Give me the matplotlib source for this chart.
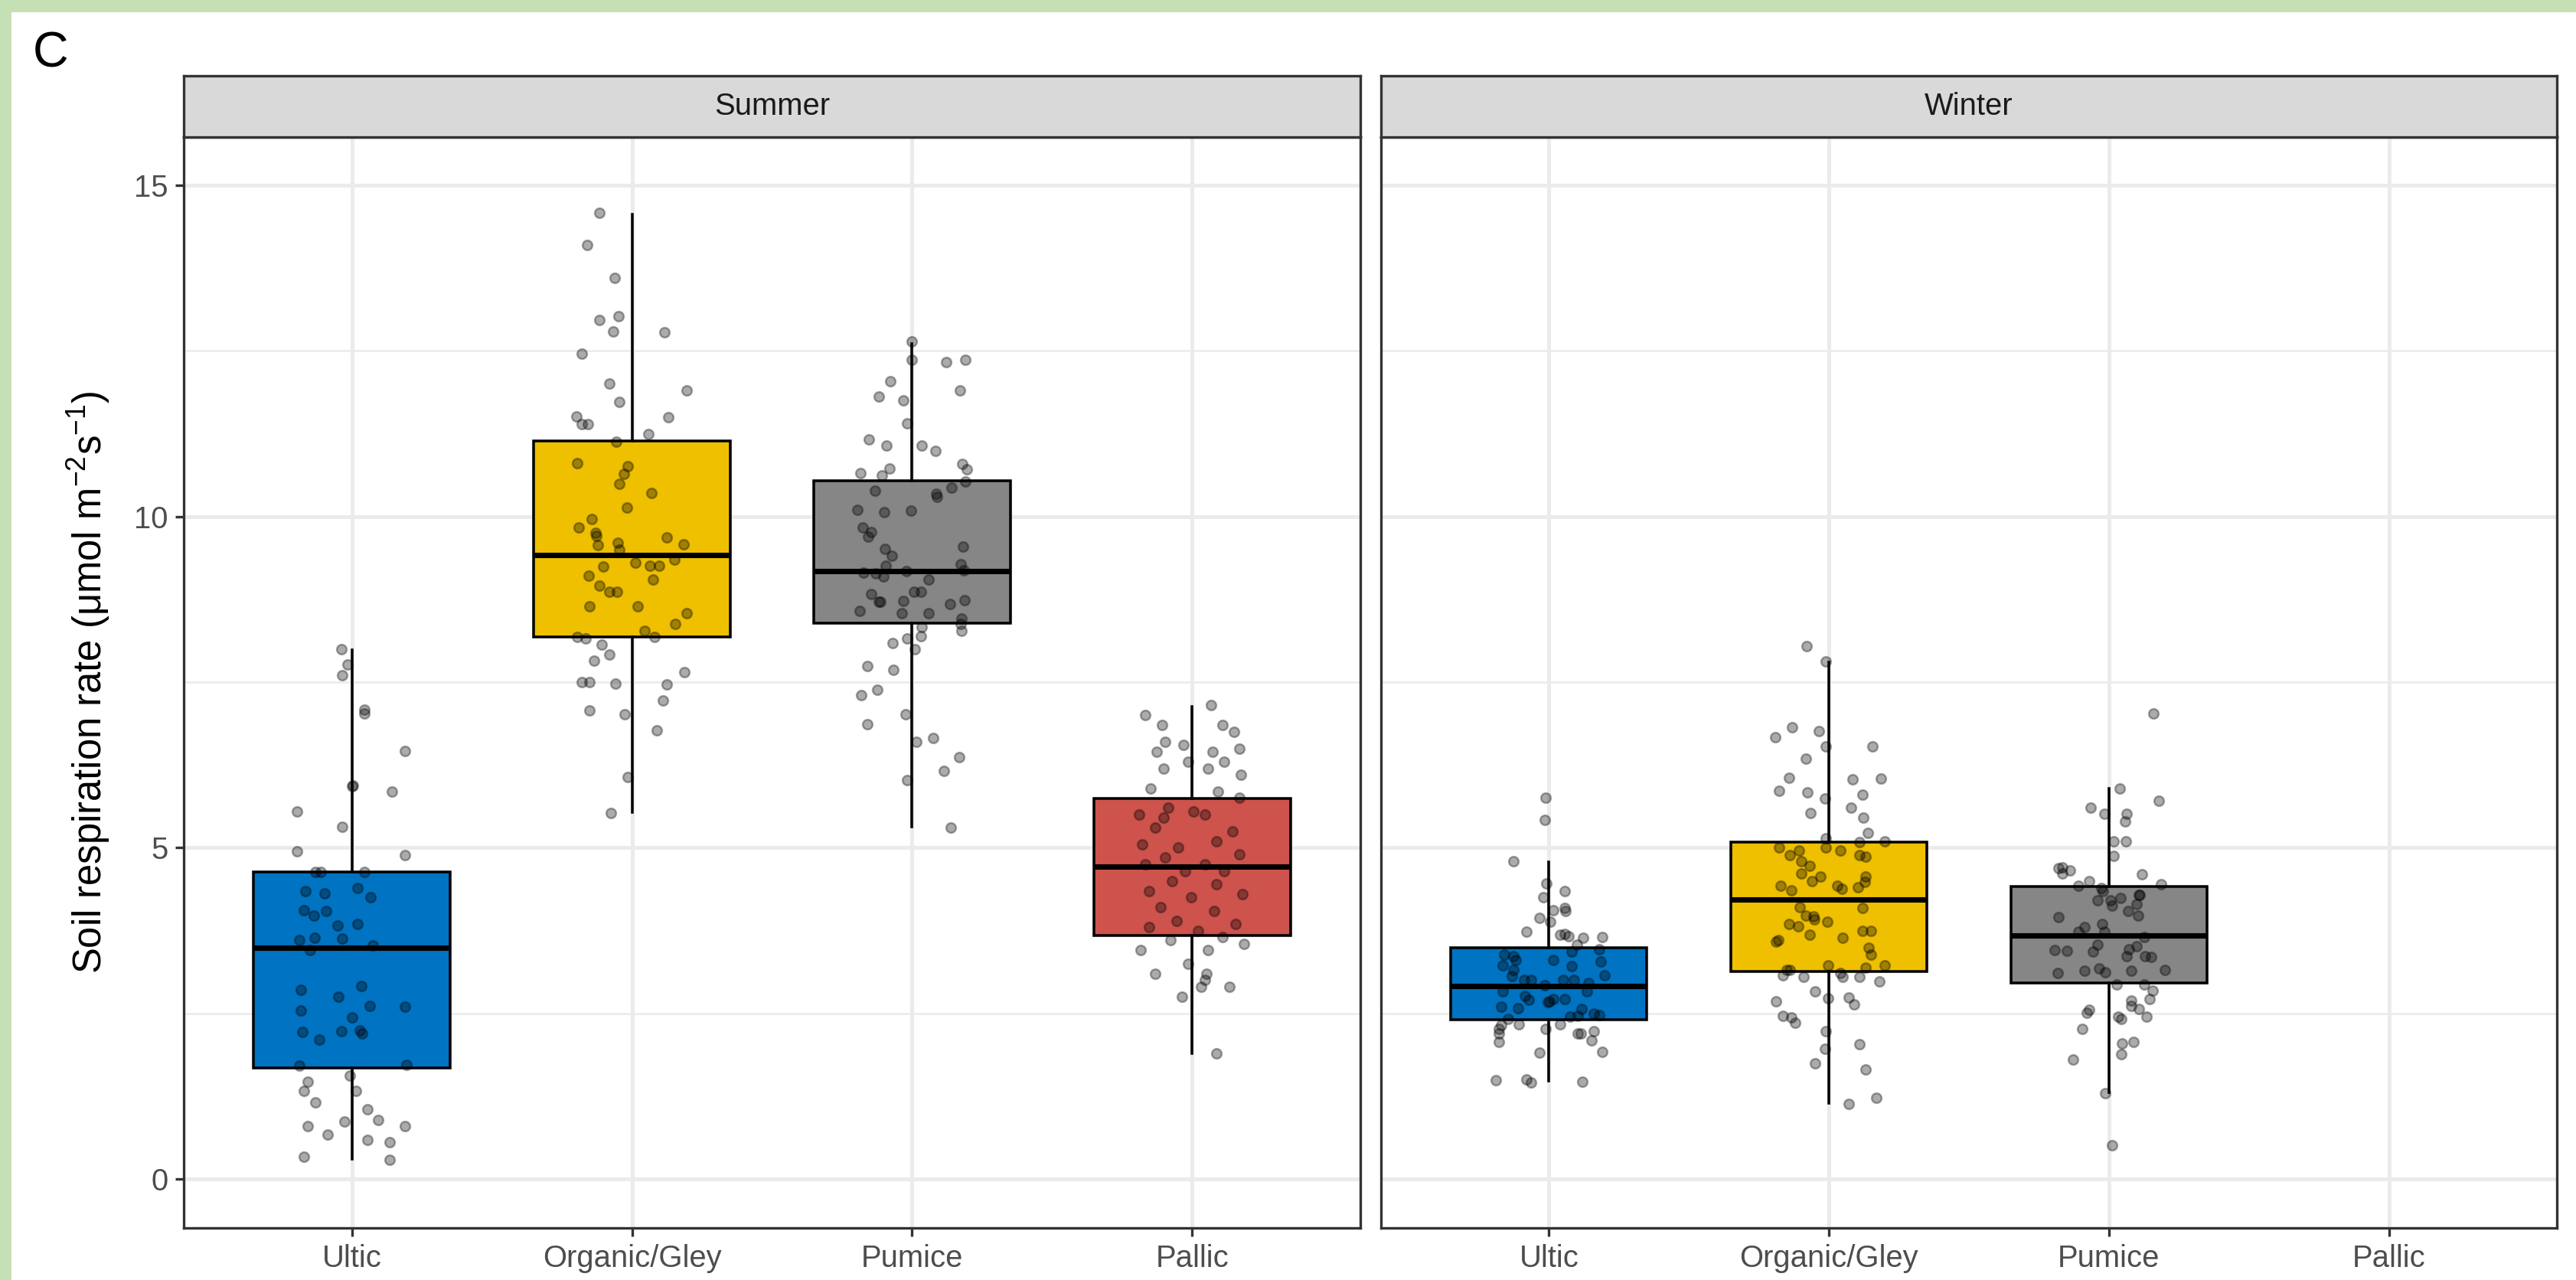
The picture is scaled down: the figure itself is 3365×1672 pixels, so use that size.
import matplotlib
matplotlib.use("Agg")
import matplotlib.pyplot as plt
from matplotlib.patches import Rectangle

plt.rcParams["font.family"] = ["Liberation Sans", "DejaVu Sans"]
plt.rcParams["mathtext.fontset"] = "custom"
plt.rcParams["mathtext.rm"] = "Liberation Sans"
plt.rcParams["mathtext.it"] = "Liberation Sans:italic"
plt.rcParams["mathtext.bf"] = "Liberation Sans:bold"

# ---------------------------------------------------------------- data
soil_types = ["Ultic", "Organic/Gley", "Pumice", "Pallic"]
seasons = ["Summer", "Winter"]
soil_colors = ["#0073C2", "#EFC000", "#868686", "#CD534C"]

# box summaries (lower whisker, Q1, median, Q3, upper whisker)
summer_whislo = [0.30, 5.54, 5.32, 1.89]
summer_q1 = [1.67, 8.18, 8.39, 3.68]
summer_med = [3.49, 9.42, 9.18, 4.72]
summer_q3 = [4.63, 11.14, 10.54, 5.74]
summer_whishi = [7.99, 14.56, 12.61, 7.13]

winter_whislo = [1.48, 1.14, 1.30]
winter_q1 = [2.40, 3.13, 2.96]
winter_med = [2.91, 4.22, 3.68]
winter_q3 = [3.49, 5.08, 4.41]
winter_whishi = [4.78, 7.80, 5.89]

# individual measurements (umol m-2 s-1) and their horizontal jitter
summer_ultic = [8.00, 7.77, 7.60, 7.08, 7.03, 6.46, 5.94, 5.93, 5.85, 5.55,
                5.32, 4.95, 4.89, 4.64, 4.64, 4.64, 4.35, 4.31, 4.39, 4.25,
                4.06, 3.98, 4.04, 3.82, 3.85, 3.61, 3.64, 3.63, 3.46, 3.52,
                2.85, 2.75, 2.91, 2.54, 2.61, 2.60, 2.44, 2.22, 2.10, 2.23,
                2.24, 2.19, 1.71, 1.72, 1.56, 1.47, 1.33, 1.33, 1.15, 1.05,
                0.89, 0.80, 0.87, 0.80, 0.67, 0.59, 0.55, 0.34, 0.29]
summer_ultic_jit = [-0.037, -0.015, -0.035, 0.046, 0.045, 0.19, 0.003, 0.0, 0.142, -0.196,
                    -0.034, -0.196, 0.19, -0.13, -0.11, 0.045, -0.165, -0.097, 0.02, 0.067,
                    -0.17, -0.135, -0.092, -0.05, 0.019, -0.188, -0.134, -0.034, -0.15, 0.076,
                    -0.182, -0.047, 0.035, -0.183, 0.065, 0.19, 0.0, -0.176, -0.115, -0.037,
                    0.028, 0.037, -0.188, 0.196, -0.006, -0.156, -0.172, 0.015, -0.131, 0.056,
                    0.094, -0.158, -0.026, 0.19, -0.087, 0.056, 0.135, -0.17, 0.134]

summer_organic = [14.59, 14.10, 13.60, 12.97, 13.02, 12.79, 12.78, 12.46, 12.01, 11.91,
                  11.73, 11.51, 11.40, 11.40, 11.50, 11.24, 11.13, 10.81, 10.76, 10.65,
                  10.50, 10.35, 10.14, 9.96, 9.84, 9.75, 9.71, 9.57, 9.61, 9.50,
                  9.69, 9.58, 9.35, 9.25, 9.30, 9.26, 9.26, 9.11, 9.05, 8.96,
                  8.87, 8.87, 8.65, 8.65, 8.54, 8.38, 8.28, 8.18, 8.16, 8.18,
                  8.07, 7.83, 7.92, 7.65, 7.50, 7.50, 7.48, 7.47, 7.22, 7.07,
                  7.02, 6.77, 6.07, 5.53]
summer_organic_jit = [-0.115, -0.16, -0.061, -0.115, -0.048, -0.068, 0.115, -0.179, -0.08, 0.196,
                      -0.045, -0.199, -0.179, -0.158, 0.129, 0.06, -0.055, -0.195, -0.014, -0.028,
                      -0.045, 0.07, -0.019, -0.144, -0.19, -0.13, -0.128, -0.123, -0.051, -0.044,
                      0.125, 0.185, 0.151, -0.102, 0.012, 0.064, 0.098, -0.155, 0.074, -0.115,
                      -0.08, -0.052, -0.153, 0.021, 0.194, 0.154, 0.044, -0.195, -0.165, 0.08,
                      -0.108, -0.134, -0.082, 0.187, -0.179, -0.152, -0.059, 0.125, 0.11, -0.153,
                      -0.025, 0.09, -0.015, -0.074]

summer_pumice = [12.64, 12.37, 12.33, 12.37, 12.04, 11.81, 11.75, 11.91, 11.41, 11.17,
                 11.07, 11.07, 10.99, 10.66, 10.62, 10.72, 10.80, 10.71, 10.53, 10.39,
                 10.34, 10.30, 10.44, 10.10, 10.07, 10.09, 9.84, 9.77, 9.70, 9.51,
                 9.41, 9.55, 9.26, 9.28, 9.15, 9.14, 9.09, 9.18, 9.19, 9.05,
                 8.83, 8.71, 8.71, 8.73, 8.86, 8.86, 8.68, 8.74, 8.57, 8.54,
                 8.54, 8.46, 8.38, 8.28, 8.33, 8.16, 8.19, 8.00, 8.09, 7.74,
                 7.69, 7.31, 7.39, 6.86, 7.01, 6.60, 6.66, 6.37, 6.16, 6.02,
                 5.30]
summer_pumice_jit = [0.0, 0.0, 0.123, 0.189, -0.077, -0.12, -0.031, 0.17, -0.017, -0.155,
                     -0.091, 0.035, 0.084, -0.184, -0.109, -0.081, 0.18, 0.196, 0.191, -0.132,
                     0.085, 0.09, 0.142, -0.195, -0.1, -0.004, -0.176, -0.146, -0.157, -0.098,
                     -0.072, 0.181, -0.093, 0.174, -0.174, -0.129, -0.103, -0.02, 0.184, 0.059,
                     -0.145, -0.12, -0.113, -0.031, 0.007, 0.031, 0.135, 0.188, -0.187, -0.036,
                     0.06, 0.175, 0.174, 0.175, 0.035, -0.017, 0.031, 0.009, -0.069, -0.16,
                     -0.068, -0.182, -0.124, -0.159, -0.023, 0.016, 0.076, 0.167, 0.114, -0.017,
                     0.137]

summer_pallic = [7.00, 7.15, 6.85, 6.85, 6.75, 6.60, 6.55, 6.45, 6.45, 6.50,
                 6.30, 6.30, 6.20, 6.20, 6.10, 5.85, 5.90, 5.75, 5.60, 5.55,
                 5.45, 5.50, 5.50, 5.30, 5.25, 5.10, 5.00, 5.05, 4.90, 4.85,
                 4.75, 4.75, 4.65, 4.65, 4.50, 4.45, 4.35, 4.30, 4.25, 4.10,
                 4.05, 3.90, 3.85, 3.80, 3.75, 3.65, 3.60, 3.55, 3.45, 3.45,
                 3.25, 3.10, 3.00, 2.90, 2.75, 3.10, 2.90, 1.90]
summer_pallic_jit = [-0.167, 0.067, -0.108, 0.108, 0.149, -0.097, -0.032, -0.126, 0.073, 0.167,
                     -0.015, 0.114, -0.102, 0.056, 0.173, 0.091, -0.149, 0.167, -0.085, 0.003,
                     -0.103, 0.044, -0.191, -0.132, 0.144, 0.085, -0.050, -0.179, 0.167, -0.097,
                     0.044, -0.167, -0.026, 0.114, -0.073, 0.085, -0.155, 0.179, -0.003, -0.114,
                     0.079, -0.056, 0.155, -0.155, 0.021, 0.108, -0.079, 0.185, -0.185, 0.056,
                     -0.015, -0.132, 0.044, 0.032, -0.038, 0.050, 0.132, 0.085]

winter_ultic = [5.76, 5.42, 4.80, 4.46, 4.34, 4.25, 4.06, 4.09, 4.05, 3.94,
                3.88, 3.73, 3.69, 3.70, 3.66, 3.64, 3.65, 3.54, 3.47, 3.39,
                3.36, 3.31, 3.43, 3.30, 3.22, 3.28, 3.21, 3.16, 3.07, 3.06,
                3.00, 3.00, 3.00, 3.00, 2.96, 2.92, 2.83, 2.83, 2.76, 2.71,
                2.67, 2.68, 2.72, 2.72, 2.56, 2.60, 2.58, 2.50, 2.47, 2.46,
                2.45, 2.41, 2.33, 2.33, 2.32, 2.27, 2.26, 2.19, 2.20, 2.20,
                2.23, 2.09, 2.07, 1.91, 1.92, 1.49, 1.50, 1.46, 1.47]
winter_ultic_jit = [-0.013, -0.016, -0.127, -0.01, 0.056, -0.02, 0.016, 0.056, 0.058, -0.033,
                    0.004, -0.08, 0.04, 0.056, 0.07, 0.122, 0.19, 0.1, 0.18, -0.16,
                    -0.128, -0.12, 0.08, 0.016, -0.164, 0.185, 0.08, -0.128, 0.198, -0.133,
                    -0.088, -0.065, 0.052, 0.09, 0.14, -0.015, -0.164, 0.135, -0.085, -0.072,
                    -0.005, 0.002, 0.016, 0.056, 0.117, -0.17, -0.11, 0.16, 0.18, 0.104,
                    0.075, -0.145, -0.107, 0.04, -0.17, -0.013, -0.18, -0.18, 0.104, 0.114,
                    0.16, 0.152, -0.18, -0.034, 0.19, -0.19, -0.08, -0.065, 0.12]

winter_organic = [8.04, 7.81, 6.67, 6.82, 6.76, 6.53, 6.53, 6.34, 6.06, 6.03,
                  6.05, 5.86, 5.84, 5.74, 5.80, 5.61, 5.52, 5.46, 5.22, 5.14,
                  5.08, 5.10, 5.00, 4.96, 5.00, 4.96, 4.89, 4.89, 4.86, 4.80,
                  4.73, 4.61, 4.50, 4.56, 4.56, 4.48, 4.43, 4.36, 4.43, 4.38,
                  4.40, 4.10, 4.09, 3.97, 3.96, 3.92, 3.88, 3.85, 3.81, 3.75,
                  3.75, 3.69, 3.64, 3.58, 3.61, 3.49, 3.39, 3.23, 3.23, 3.16,
                  3.16, 3.11, 3.19, 3.07, 3.05, 3.05, 3.05, 2.98, 2.83, 2.68,
                  2.73, 2.74, 2.64, 2.46, 2.44, 2.36, 2.23, 2.03, 1.96, 1.75,
                  1.65, 1.13, 1.22]
winter_organic_jit = [-0.079, -0.01, -0.193, -0.132, -0.037, -0.01, 0.156, -0.083, -0.143, 0.085,
                      0.185, -0.178, -0.078, -0.013, 0.12, 0.078, -0.065, 0.122, 0.14, -0.01,
                      0.11, 0.2, -0.178, -0.108, -0.01, 0.04, -0.14, 0.11, 0.13, -0.1,
                      -0.07, -0.1, -0.06, -0.03, 0.13, 0.128, -0.172, -0.134, 0.03, 0.046,
                      0.104, -0.103, 0.12, -0.083, -0.055, -0.051, -0.007, -0.143, -0.11, 0.12,
                      0.15, -0.07, 0.05, -0.19, -0.18, 0.143, 0.15, -0.004, 0.2, -0.14,
                      -0.15, 0.04, 0.13, -0.165, -0.09, 0.05, 0.11, 0.18, -0.05, -0.19,
                      -0.004, 0.07, 0.09, -0.165, -0.134, -0.122, -0.01, 0.11, -0.013, -0.05,
                      0.13, 0.07, 0.17]

winter_pumice = [7.03, 5.90, 5.71, 5.60, 5.51, 5.51, 5.40, 5.10, 5.10, 4.88,
                 4.69, 4.70, 4.61, 4.66, 4.60, 4.49, 4.43, 4.45, 4.39, 4.34,
                 4.21, 4.21, 4.13, 4.24, 4.29, 4.29, 4.15, 4.05, 3.97, 3.95,
                 3.85, 3.80, 3.73, 3.73, 3.65, 3.54, 3.51, 3.46, 3.44, 3.43,
                 3.47, 3.36, 3.36, 3.35, 3.15, 3.11, 3.14, 3.18, 3.12, 3.14,
                 2.94, 2.94, 2.84, 2.72, 2.69, 2.61, 2.56, 2.55, 2.51, 2.45,
                 2.42, 2.45, 2.26, 2.05, 2.07, 1.88, 1.80, 1.29, 0.51]
winter_pumice_jit = [0.158, 0.039, 0.177, -0.065, -0.015, 0.064, 0.057, 0.017, 0.06, 0.018,
                     -0.18, -0.166, -0.167, -0.14, 0.119, -0.07, -0.11, 0.185, -0.027, -0.021,
                     -0.04, 0.006, 0.012, 0.041, 0.108, 0.11, 0.1, 0.069, 0.105, -0.18,
                     -0.023, -0.088, -0.11, -0.015, 0.126, -0.04, 0.099, -0.193, -0.15, -0.058,
                     0.072, 0.064, 0.128, 0.15, 0.2, -0.184, -0.088, -0.034, -0.013, 0.081,
                     0.028, 0.126, 0.157, 0.145, 0.081, 0.08, 0.107, -0.07, -0.08, 0.033,
                     0.045, 0.135, -0.096, 0.047, 0.087, 0.043, -0.128, -0.014, 0.011]

y_ticks = [0, 5, 10, 15]
y_label = "Soil respiration rate (μmol m$^{-2}$s$^{-1}$)"
panel_tag = "C"

# ---------------------------------------------------------------- layout
W, H = 3365, 1672
DPI = 300
fig = plt.figure(figsize=(W / DPI, H / DPI), dpi=DPI)
fig.patch.set_facecolor("white")


def rect_px(x0, x1, y0, y1):
    return [x0 / W, 1 - y1 / H, (x1 - x0) / W, (y1 - y0) / H]


# light green frame on the left and top
fig.add_artist(Rectangle((0, 0), 15 / W, 1, transform=fig.transFigure,
                         facecolor="#C5E0B4", edgecolor="none"))
fig.add_artist(Rectangle((0, 1 - 16 / H), 1, 16 / H, transform=fig.transFigure,
                         facecolor="#C5E0B4", edgecolor="none"))

panel_px = [(240, 1777), (1804, 3340)]
top_px, bottom_px, strip_top_px = 179, 1604, 99

border_col = "#333333"
grid_col = "#EBEBEB"
tick_text_col = "#4D4D4D"

season_data = {
    "Summer": dict(
        groups=[summer_ultic, summer_organic, summer_pumice, summer_pallic],
        jit=[summer_ultic_jit, summer_organic_jit, summer_pumice_jit, summer_pallic_jit],
        stats=(summer_whislo, summer_q1, summer_med, summer_q3, summer_whishi)),
    "Winter": dict(
        groups=[winter_ultic, winter_organic, winter_pumice],
        jit=[winter_ultic_jit, winter_organic_jit, winter_pumice_jit],
        stats=(winter_whislo, winter_q1, winter_med, winter_q3, winter_whishi)),
}

x_pos = list(range(1, len(soil_types) + 1))

for i, season in enumerate(seasons):
    x0, x1 = panel_px[i]
    ax = fig.add_axes(rect_px(x0, x1, top_px, bottom_px))
    ax.set_xlim(0.4, 4.6)
    ax.set_ylim(-0.74, 15.73)

    # grid
    for yv in [2.5, 7.5, 12.5]:
        ax.axhline(yv, color=grid_col, lw=0.6, zorder=0)
    for yv in y_ticks:
        ax.axhline(yv, color=grid_col, lw=1.2, zorder=0)
    for xv in x_pos:
        ax.axvline(xv, color=grid_col, lw=1.2, zorder=0)

    d = season_data[season]
    lo, q1, med, q3, hi = d["stats"]
    n = len(d["groups"])
    stats = [dict(whislo=lo[k], q1=q1[k], med=med[k], q3=q3[k], whishi=hi[k])
             for k in range(n)]
    bp = ax.bxp(stats, positions=x_pos[:n], widths=0.7, patch_artist=True,
                showfliers=False, showcaps=False,
                boxprops=dict(linewidth=0.85, edgecolor="black"),
                medianprops=dict(color="black", linewidth=1.7, solid_capstyle="butt"),
                whiskerprops=dict(color="black", linewidth=0.85),
                zorder=2)
    for k, patch in enumerate(bp["boxes"]):
        patch.set_facecolor(soil_colors[k])

    for k in range(n):
        vals = d["groups"][k]
        jit = d["jit"][k]
        xs = [x_pos[k] + j for j in jit]
        ax.scatter(xs, vals, s=9.5, color="black", alpha=0.33,
                   linewidths=0.6, edgecolors="black", zorder=3)

    for sp in ax.spines.values():
        sp.set_color(border_col)
        sp.set_linewidth(0.8)
        sp.set_zorder(4)

    ax.set_xticks(x_pos)
    ax.set_xticklabels(soil_types)
    ax.tick_params(axis="x", length=2.75, width=0.8, color=border_col,
                   labelsize=9.6, labelcolor=tick_text_col, pad=2.2)
    ax.set_yticks(y_ticks)
    if i == 0:
        ax.set_yticklabels([str(t) for t in y_ticks])
        ax.tick_params(axis="y", length=2.75, width=0.8, color=border_col,
                       labelsize=9.6, labelcolor=tick_text_col, pad=2.2)
    else:
        ax.tick_params(axis="y", length=0, labelleft=False)

    # facet strip
    sax = fig.add_axes(rect_px(x0, x1, strip_top_px, top_px))
    sax.set_facecolor("#D9D9D9")
    sax.set_xticks([])
    sax.set_yticks([])
    for sp in sax.spines.values():
        sp.set_color(border_col)
        sp.set_linewidth(0.8)
    sax.text(0.5, 0.5, season, ha="center", va="center", fontsize=9.6,
             color="#1A1A1A", transform=sax.transAxes)

fig.text(116 / W, 1 - ((top_px + bottom_px) / 2) / H, y_label, rotation=90,
         ha="center", va="center", fontsize=12.2, color="black")
fig.text(43 / W, 1 - 70 / H, panel_tag, ha="left", va="center", fontsize=15.5,
         color="black")

fig.savefig("out.png", dpi=DPI)
